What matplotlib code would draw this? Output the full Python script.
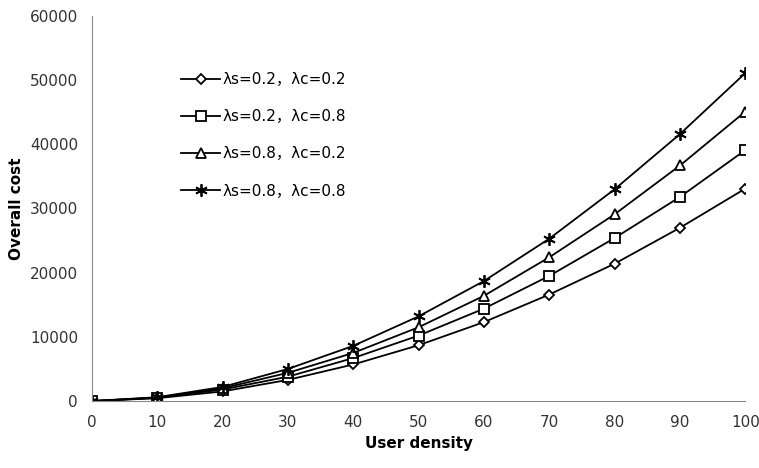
import matplotlib.pyplot as plt

# Data
density = [0, 10, 20, 30, 40, 50, 60, 70, 80, 90, 100]
cost_s02_c02 = [0, 450, 1500, 3300, 5700, 8700, 12300, 16600, 21400, 27000, 33100]
cost_s02_c08 = [0, 500, 1800, 3800, 6700, 10200, 14400, 19500, 25400, 31800, 39100]
cost_s08_c02 = [0, 550, 2000, 4400, 7500, 11500, 16400, 22400, 29100, 36700, 45100]
cost_s08_c08 = [0, 600, 2200, 5000, 8600, 13200, 18700, 25300, 33000, 41600, 51100]
labels = ['λs=0.2，λc=0.2', 'λs=0.2，λc=0.8', 'λs=0.8，λc=0.2', 'λs=0.8，λc=0.8']

plt.rcParams['font.family'] = ['DejaVu Sans', 'Noto Sans CJK SC']

fig = plt.figure(figsize=(7.59, 4.68), dpi=100)
ax = fig.add_axes([0.121, 0.143, 0.861, 0.823])

series = [cost_s02_c02, cost_s02_c08, cost_s08_c02, cost_s08_c08]
markers = ['D', 's', '^', (6, 2, 0)]
sizes = [5, 7, 7.5, 9]
for vals, lab, m, ms in zip(series, labels, markers, sizes):
    ax.plot(density, vals, color='black', linewidth=1.3, marker=m, markersize=ms,
            markerfacecolor='white', markeredgecolor='black', markeredgewidth=1.3,
            label=lab)

ax.set_xlim(0, 100)
ax.set_ylim(0, 60000)
ax.set_xticks(density)
ax.set_yticks(range(0, 60001, 10000))
ax.spines['top'].set_visible(False)
ax.spines['right'].set_visible(False)
ax.spines['left'].set_color('#888888')
ax.spines['bottom'].set_color('#888888')
ax.tick_params(length=0, labelsize=11, colors='#333333', pad=10)
ax.set_xlabel('User density', fontsize=11, fontweight='bold', labelpad=4)
ax.set_ylabel('Overall cost', fontsize=11, fontweight='bold', labelpad=4)

leg = ax.legend(loc='upper left', bbox_to_anchor=(0.115, 0.89), frameon=False,
                fontsize=11, labelspacing=1.45, handlelength=2.6, handletextpad=0.1)

fig.savefig('out.png', dpi=100)
